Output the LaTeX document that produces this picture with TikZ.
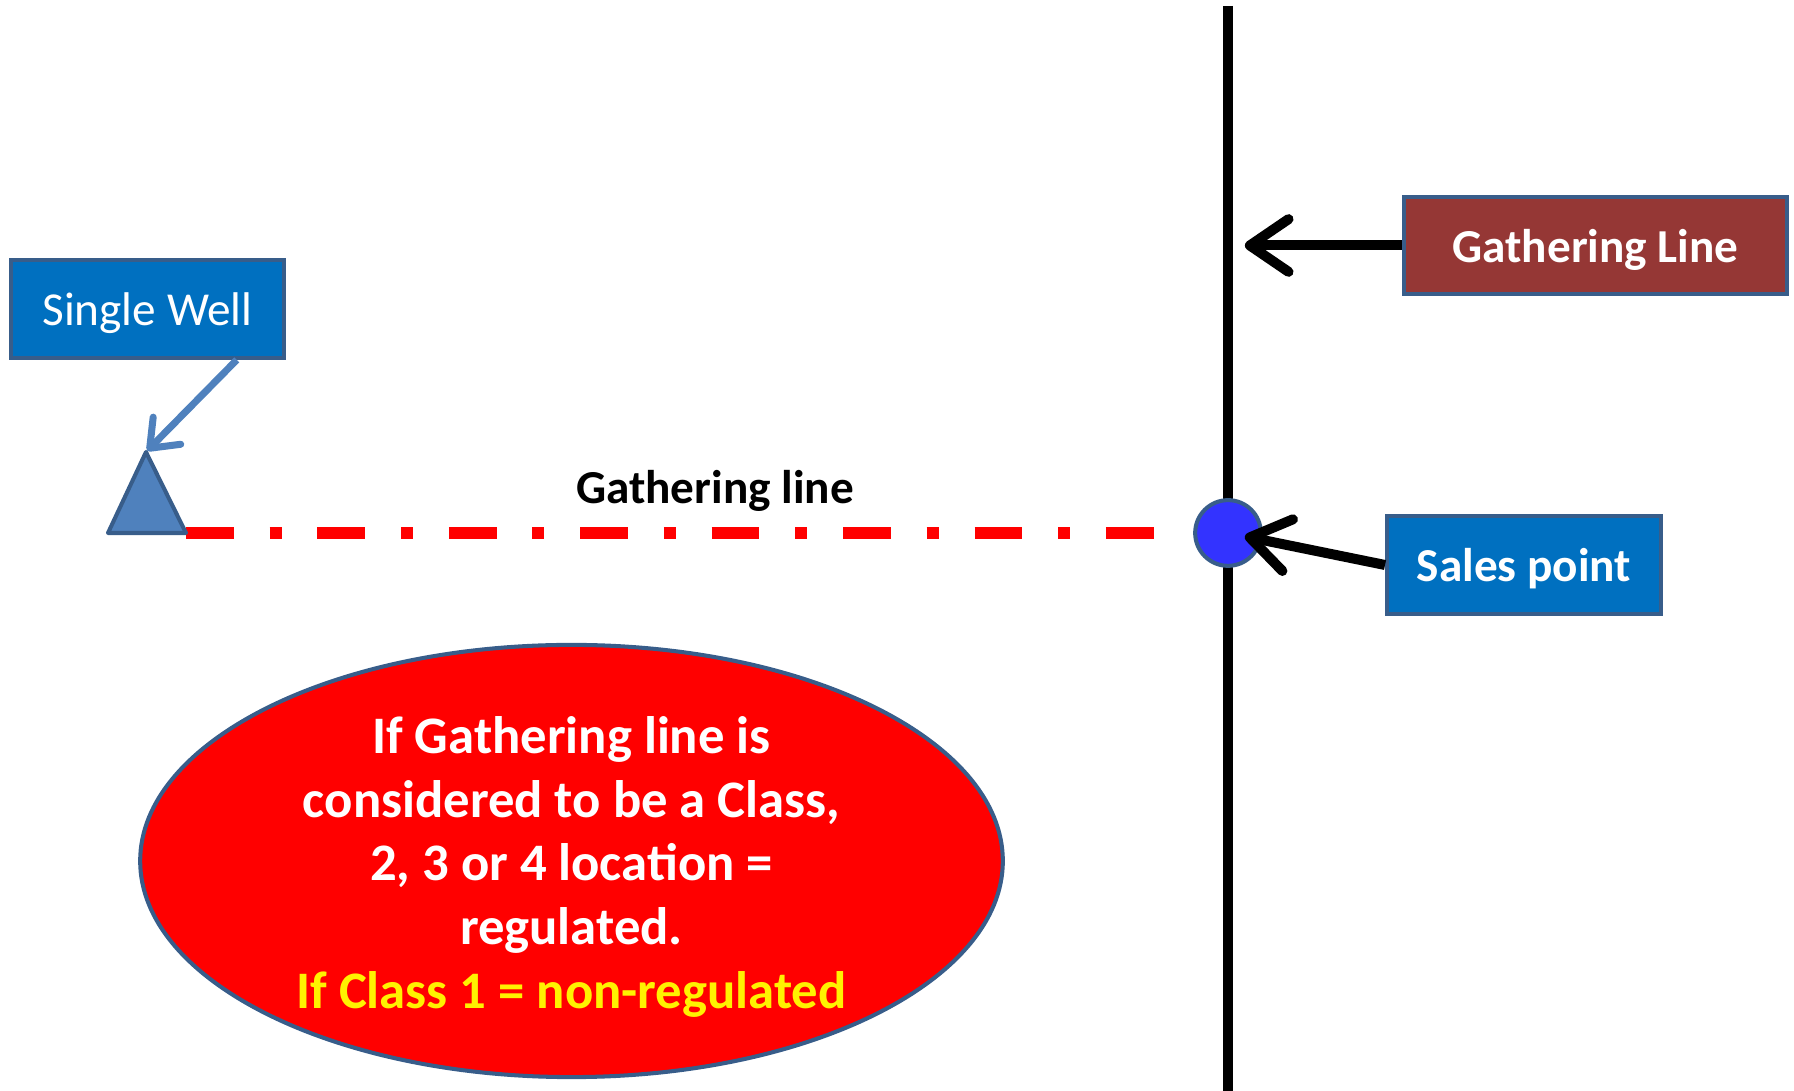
\documentclass[tikz,border=0pt]{standalone}
\usepackage{fontspec}
\setmainfont{Carlito}
\usepackage{tikz}
\usetikzlibrary{arrows.meta,shapes.geometric}
\definecolor{wellblue}{RGB}{0,112,192}
\definecolor{linered}{RGB}{149,55,53}
\definecolor{edgeblue}{RGB}{56,93,138}
\definecolor{markblue}{RGB}{79,129,189}
\definecolor{spotblue}{RGB}{51,51,255}

\begin{document}
\begin{tikzpicture}[x=0.02cm,y=0.02cm,
			tag node/.style={rectangle,draw=edgeblue,line width=2.3pt,text=white,inner sep=0pt,text depth=0pt,
				minimum width=155.9pt,minimum height=55.6pt,font=\fontsize{26.9}{32}\selectfont},
			black arrow/.style={line width=5.7pt,-{Straight Barb[length=22pt,width=30pt,round]}},
			blue arrow/.style={draw=markblue,line width=4pt,-{Straight Barb[length=14pt,width=22pt,round]}}]
			
			\useasboundingbox (0,0) rectangle (1794,1091);
			
			\coordinate (top) at (1228,1085);
			\coordinate (bottom) at (1228,0);
			\draw[line width=6pt] (top) -- (bottom);
			
			\node[tag node,fill=wellblue] (well) at (147.5,782) {Single Well};
			\node[tag node,fill=linered,minimum width=218.3pt,minimum height=55pt,font=\fontsize{26.9}{32}\selectfont\bfseries] (gline) at (1595.5,845.5) {Gathering Line};
			\node[tag node,fill=wellblue,font=\fontsize{26.9}{32}\selectfont\bfseries] (sales) at (1524,526) {Sales point};
			
			\coordinate (t1) at (108,558);
			\coordinate (apex) at (146,639);
			\coordinate (t2) at (186,558);
			
			\node[circle,draw=edgeblue,fill=spotblue,line width=2.3pt,minimum size=37.4pt,inner sep=0pt] (spot) at (1228,558) {};
			
			\draw[red,line width=6.8pt,dash pattern=on 27.2pt off 20.4pt on 6.8pt off 20.4pt,shorten >=20.4pt] (t2) -- (spot.west);
			\draw[draw=edgeblue,fill=markblue,line width=2.3pt,line join=round] (t1) -- (apex) -- (t2) -- cycle;
			
			\node[font=\fontsize{26.9}{32}\selectfont\bfseries] (glabel) at (715,600.5) {Gathering line};
			
			\draw[blue arrow,shorten >=1pt] ([xshift=-28.3pt]well.south east) -- (apex);
			\draw[black arrow,shorten >=9.6pt] (gline.west) -- (gline.west -| top);
			\draw[black arrow,shorten >=9.8pt] (sales.west) -- (spot.center);
			
			\node[ellipse,draw=edgeblue,fill=red,line width=2.3pt,minimum width=491pt,minimum height=246pt,inner sep=0pt] (zone) at (571.5,230) {};
			\node[text=white,align=center,font=\fontsize{30}{36.3}\selectfont\bfseries] (rule) at ([yshift=-3.4pt]zone.center)
			{If Gathering line is\\considered to be a Class,\\2, 3 or 4 location =\\regulated.\\\textcolor{yellow}{If Class 1 = non-regulated}};
			
			\end{tikzpicture}
\end{document}
